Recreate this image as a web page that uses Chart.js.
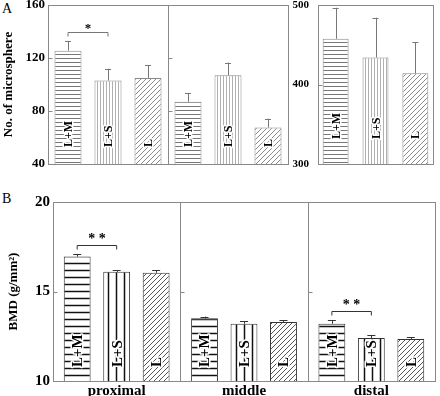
<!DOCTYPE html>
<html lang="en">
<head>
<meta charset="UTF-8">
<title>Microsphere and BMD</title>
<script src="https://cdn.jsdelivr.net/npm/chart.js"></script>
<style>
  body { margin: 0; background: #fff; }
  #wrap { position: relative; width: 440px; height: 396px; font-family: "Liberation Serif", serif; }
  canvas { position: absolute; }
  .tag { position: absolute; font-size: 14px; line-height: 14px; }
</style>
</head>
<body>
<div id="wrap">
  <div class="tag" style="left:2px;top:2px">A</div>
  <div class="tag" style="left:2px;top:192px">B</div>
  <canvas id="chartA1" width="300" height="178" style="left:0;top:0"></canvas>
  <canvas id="chartA2" width="160" height="178" style="left:280px;top:0"></canvas>
  <canvas id="chartB" width="440" height="206" style="left:0;top:190px"></canvas>
</div>

<script>
  const regions = ['proximal', 'middle', 'distal'];
  const groups = ['L+M', 'L+S', 'L'];

  // A: number of microspheres (mean, SD) per region
  const sphereLM = [125.5, 87, 457.5];
  const sphereLS = [103, 107, 434];
  const sphereL = [105, 67.5, 414];
  const sphereLMErr = [7.4, 6.7, 39];
  const sphereLSErr = [8.9, 9.6, 50];
  const sphereLErr = [9.6, 6.7, 39];

  // B: BMD (g/mm2) per region
  const bmdLM = [16.95, 13.5, 13.2];
  const bmdLS = [16.1, 13.2, 12.4];
  const bmdL = [16.05, 13.3, 12.35];
  const bmdLMErr = [0.15, 0.1, 0.2];
  const bmdLSErr = [0.1, 0.15, 0.15];
  const bmdLErr = [0.15, 0.1, 0.1];

  const ticksA1 = [40, 80, 120, 160];
  const ticksA2 = [300, 400, 500];
  const ticksB = [10, 15, 20];

  const sigA = [['proximal', '*']];
  const sigB = [['proximal', '**'], ['distal', '**']];

  const FONT = '"Liberation Serif", "Times New Roman", serif';

  function hatch(size, color, width, draw) {
    const c = document.createElement('canvas');
    c.width = size; c.height = size;
    const g = c.getContext('2d');
    g.fillStyle = '#fff';
    g.fillRect(0, 0, size, size);
    g.strokeStyle = color;
    g.lineWidth = width;
    g.beginPath();
    draw(g, size);
    g.stroke();
    return g.createPattern(c, 'repeat');
  }
  const horiz = (g, s) => { const p = Math.floor(s / 2) + 0.5; g.moveTo(0, p); g.lineTo(s, p); };
  const vert = (g, s) => { const p = Math.floor(s / 2) + 0.5; g.moveTo(p, 0); g.lineTo(p, s); };
  const diag = (g, s) => {
    g.moveTo(-1, s + 1); g.lineTo(s + 1, -1);
    g.moveTo(-1, 1); g.lineTo(1, -1);
    g.moveTo(s - 1, s + 1); g.lineTo(s + 1, s - 1);
  };

  const fillA = [hatch(4, '#777', 1, horiz), hatch(3, '#b0b0b0', 1, vert), hatch(5, '#8a8a8a', 1, diag)];
  const fillB = [hatch(7, '#111', 1.5, horiz), hatch(8, '#111', 1.5, vert), hatch(5, '#555', 1, diag)];

  // error bars, labels inside bars, frame, dividers, significance brackets
  const decor = {
    id: 'decor',
    afterDatasetsDraw(chart, args, o) {
      const ctx = chart.ctx, x = chart.scales.x, y = chart.scales.y, a = chart.chartArea;
      const labels = chart.data.labels;
      const errTop = [];
      ctx.save();
      chart.data.datasets.forEach((ds, di) => {
        errTop[di] = [];
        chart.getDatasetMeta(di).data.forEach((bar, i) => {
          const top = y.getPixelForValue(ds.data[i] + ds.err[i]);
          errTop[di][i] = top;
          ctx.strokeStyle = o.errColor;
          ctx.lineWidth = 1;
          ctx.beginPath();
          ctx.moveTo(Math.round(bar.x) + 0.5, bar.y);
          ctx.lineTo(Math.round(bar.x) + 0.5, top);
          ctx.moveTo(bar.x - o.cap, Math.round(top) + 0.5);
          ctx.lineTo(bar.x + o.cap, Math.round(top) + 0.5);
          ctx.stroke();

          ctx.save();
          ctx.translate(bar.x, a.bottom - o.textLift);
          ctx.rotate(-Math.PI / 2);
          ctx.font = o.font;
          ctx.textAlign = 'left';
          ctx.textBaseline = 'middle';
          ctx.lineJoin = 'round';
          ctx.lineWidth = 3;
          ctx.strokeStyle = '#fff';
          ctx.strokeText(ds.label, 0, 1);
          ctx.fillStyle = '#000';
          ctx.fillText(ds.label, 0, 1);
          ctx.restore();
        });
      });

      // frame
      ctx.strokeStyle = o.frameColor;
      ctx.lineWidth = 1;
      ctx.strokeRect(Math.round(a.left) + 0.5, Math.round(a.top) + 0.5, Math.round(a.width), Math.round(a.height));

      // dividers between regions, plus inward tick marks
      const verticals = [a.left];
      for (let i = 1; i < labels.length; i++) {
        verticals.push((x.getPixelForValue(i - 1) + x.getPixelForValue(i)) / 2);
      }
      ctx.beginPath();
      verticals.forEach((vx, k) => {
        const px = Math.round(vx) + 0.5;
        if (k > 0) { ctx.moveTo(px, a.top); ctx.lineTo(px, a.bottom); }
        y.ticks.forEach(t => {
          if (t.value === y.min || t.value === y.max) return;
          const py = Math.round(y.getPixelForValue(t.value)) + 0.5;
          ctx.moveTo(px, py); ctx.lineTo(px + 4, py);
        });
      });
      ctx.stroke();

      // significance brackets
      (o.sig || []).forEach(([region, mark]) => {
        const i = labels.indexOf(region);
        if (i < 0) return;
        const b0 = chart.getDatasetMeta(0).data[i], b1 = chart.getDatasetMeta(1).data[i];
        const yb = Math.round(Math.min(errTop[0][i], errTop[1][i]) - o.sigGap) + 0.5;
        ctx.strokeStyle = o.errColor;
        ctx.beginPath();
        ctx.moveTo(b0.x, yb + 4); ctx.lineTo(b0.x, yb);
        ctx.lineTo(b1.x, yb); ctx.lineTo(b1.x, yb + 4);
        ctx.stroke();
        ctx.fillStyle = '#000';
        ctx.font = o.sigFont;
        ctx.textAlign = 'center';
        ctx.textBaseline = 'alphabetic';
        ctx.fillText(mark.split('').join(' '), (b0.x + b1.x) / 2, yb + o.sigLift);
      });
      ctx.restore();
    }
  };

  function yScale(min, max, ticks, width, size, pad, title) {
    return {
      min: min, max: max,
      afterBuildTicks: s => { s.ticks = ticks.map(v => ({ value: v })); },
      afterFit: s => { s.width = width; s.paddingTop = 0; s.paddingBottom = 0; },
      grid: { display: false, drawTicks: false },
      border: { display: false },
      ticks: { font: { family: FONT, size: size, weight: 'bold' }, color: '#000', padding: pad },
      title: title
    };
  }

  function datasets(series, errs, fills, border, catPct, barPct) {
    return groups.map((g, k) => ({
      label: g,
      data: series[k],
      err: errs[k],
      backgroundColor: fills[k],
      borderColor: border,
      borderWidth: 1,
      categoryPercentage: catPct,
      barPercentage: barPct
    }));
  }

  const common = {
    responsive: false,
    animation: false,
    events: [],
    plugins: { legend: { display: false }, tooltip: { enabled: false } }
  };

  const cut = (arr, a, b) => arr.slice(a, b);

  // A, proximal and middle
  new Chart(document.getElementById('chartA1'), {
    type: 'bar',
    data: {
      labels: regions.slice(0, 2),
      datasets: datasets(
        [cut(sphereLM, 0, 2), cut(sphereLS, 0, 2), cut(sphereL, 0, 2)],
        [cut(sphereLMErr, 0, 2), cut(sphereLSErr, 0, 2), cut(sphereLErr, 0, 2)],
        fillA, '#888', 1, 0.675)
    },
    options: Object.assign({}, common, {
      layout: { padding: { left: 0, right: 12, top: 5, bottom: 14 } },
      scales: {
        x: { display: false, offset: true },
        y: yScale(40, 160, ticksA1, 48, 13, 3, {
          display: true, text: 'No. of microsphere', color: '#000', padding: { top: 1, bottom: 0 },
          font: { family: FONT, size: 13, weight: 'bold' }
        })
      },
      plugins: Object.assign({}, common.plugins, {
        decor: { errColor: '#777', frameColor: '#888', cap: 3, textLift: 17,
          font: 'bold 12px ' + FONT, sig: sigA, sigGap: 9, sigLift: -1, sigFont: 'bold 13px ' + FONT }
      })
    }),
    plugins: [decor]
  });

  // A, distal
  new Chart(document.getElementById('chartA2'), {
    type: 'bar',
    data: {
      labels: regions.slice(2),
      datasets: datasets(
        [cut(sphereLM, 2), cut(sphereLS, 2), cut(sphereL, 2)],
        [cut(sphereLMErr, 2), cut(sphereLSErr, 2), cut(sphereLErr, 2)],
        fillA, '#888', 1.04, 0.65)
    },
    options: Object.assign({}, common, {
      layout: { padding: { left: 0, right: 7, top: 5, bottom: 14 } },
      scales: {
        x: { display: false, offset: true },
        y: yScale(300, 500, ticksA2, 38, 11, 9, { display: false })
      },
      plugins: Object.assign({}, common.plugins, {
        decor: { errColor: '#777', frameColor: '#888', cap: 3, textLift: 25,
          font: 'bold 12px ' + FONT, sig: [], sigGap: 9, sigLift: -1, sigFont: 'bold 13px ' + FONT }
      })
    }),
    plugins: [decor]
  });

  // B, BMD
  new Chart(document.getElementById('chartB'), {
    type: 'bar',
    data: {
      labels: regions,
      datasets: datasets([bmdLM, bmdLS, bmdL], [bmdLMErr, bmdLSErr, bmdLErr], fillB, '#333', 0.93, 0.68)
    },
    options: Object.assign({}, common, {
      layout: { padding: { left: 0, right: 5, top: 12, bottom: 0 } },
      scales: {
        x: {
          offset: true,
          grid: { display: false, drawTicks: false },
          border: { display: false },
          ticks: { font: { family: FONT, size: 15, weight: 'bold' }, color: '#000', padding: 1 },
          afterFit: s => { s.height = 15; s.paddingLeft = 0; s.paddingRight = 0; }
        },
        y: yScale(10, 20, ticksB, 53, 15, 3, {
          display: true, text: 'BMD (g/mm²)', color: '#000', padding: { top: 6, bottom: 0 },
          font: { family: FONT, size: 13, weight: 'bold' }
        })
      },
      plugins: Object.assign({}, common.plugins, {
        decor: { errColor: '#333', frameColor: '#888', cap: 4, textLift: 14,
          font: 'bold 15px ' + FONT, sig: sigB, sigGap: 9, sigLift: -3, sigFont: 'bold 14px ' + FONT }
      })
    }),
    plugins: [decor]
  });
</script>
</body>
</html>
